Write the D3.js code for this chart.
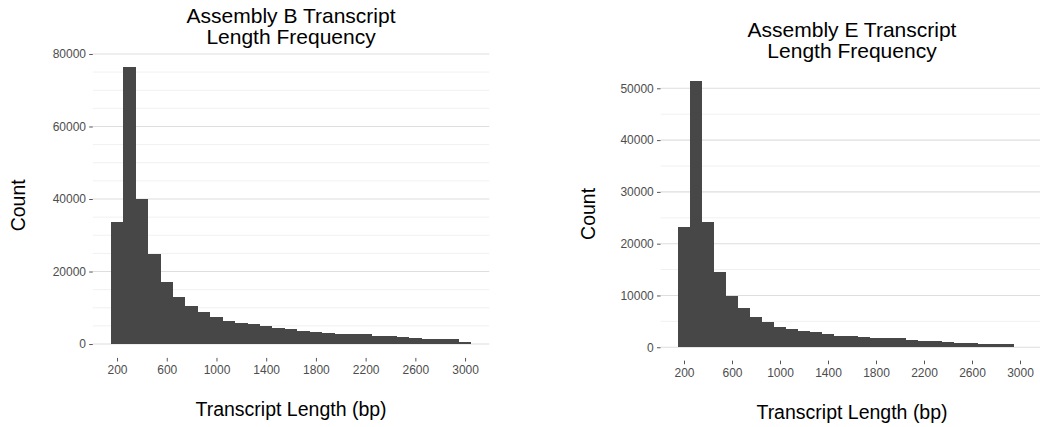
<!DOCTYPE html>
<html>
<head>
<meta charset="utf-8">
<script src="https://cdn.jsdelivr.net/npm/d3@7"></script>
<style>
  body { margin: 0; background: #ffffff; }
  svg { display: block; font-family: "Liberation Sans", Arial, Helvetica, sans-serif; }
</style>
</head>
<body>
<svg id="chart" width="1040" height="427"></svg>
<script>
// Histogram bins (centre of each 100 bp bin)
const binCenters = [200, 300, 400, 500, 600, 700, 800, 900, 1000, 1100,
                    1200, 1300, 1400, 1500, 1600, 1700, 1800, 1900, 2000, 2100,
                    2200, 2300, 2400, 2500, 2600, 2700, 2800, 2900, 3000];
const binWidth = 100;

// Transcript counts per bin, assembly B
const countsB = [33700, 76500, 40000, 24800, 17200, 13100, 10400, 8750, 7550, 6450,
                 5700, 5650, 4950, 4500, 4050, 3700, 3300, 2950, 2900, 2700,
                 2650, 2200, 2150, 1850, 1800, 1400, 1380, 1350, 640];

// Transcript counts per bin, assembly E
const countsE = [23200, 51500, 24200, 14600, 9900, 7500, 5900, 4850, 4000, 3550,
                 3200, 2950, 2500, 2200, 2250, 2000, 1750, 1750, 1700, 1480,
                 1230, 1200, 920, 900, 880, 650, 640, 620, 140];

// Tick labels
const xTickValues = [200, 600, 1000, 1400, 1800, 2200, 2600, 3000];
const yTicksB = [0, 20000, 40000, 60000, 80000];
const yTicksE = [0, 10000, 20000, 30000, 40000, 50000];
const minorStep = 5000;

const titleB = ["Assembly B Transcript", "Length Frequency"];
const titleE = ["Assembly E Transcript", "Length Frequency"];
const xLabel = "Transcript Length (bp)";
const yLabel = "Count";

const svg = d3.select("#chart");

function drawPanel(opts) {
  const { counts, yTicks, title, box } = opts;
  const bins = binCenters.map((c, i) => ({ c, n: counts[i] }));

  // 5% padding around the data range on both axes
  const x0 = binCenters[0] - binWidth / 2;
  const x1 = binCenters[binCenters.length - 1] + binWidth / 2;
  const xPad = (x1 - x0) * 0.05;
  const yMax = d3.max(counts);
  const yPad = yMax * 0.05;

  const x = d3.scaleLinear().domain([x0 - xPad, x1 + xPad]).range([box.left, box.right]);
  const y = d3.scaleLinear().domain([-yPad, yMax + yPad]).range([box.bottom, box.top]);

  const g = svg.append("g");

  // Horizontal grid lines: light ones every 5000, darker at labelled breaks
  const minor = d3.range(minorStep, yMax + yPad, minorStep).filter(v => !yTicks.includes(v));
  g.append("g").selectAll("line").data(minor).join("line")
    .attr("x1", box.left).attr("x2", box.right)
    .attr("y1", d => y(d)).attr("y2", d => y(d))
    .attr("stroke", "#f1f1f1").attr("stroke-width", 1);
  g.append("g").selectAll("line").data(yTicks).join("line")
    .attr("x1", box.left).attr("x2", box.right)
    .attr("y1", d => y(d)).attr("y2", d => y(d))
    .attr("stroke", "#dedede").attr("stroke-width", 1.1);

  // Bars
  g.append("g").selectAll("rect").data(bins).join("rect")
    .attr("x", d => x(d.c - binWidth / 2))
    .attr("width", d => x(d.c + binWidth / 2) - x(d.c - binWidth / 2))
    .attr("y", d => y(d.n))
    .attr("height", d => y(0) - y(d.n))
    .attr("fill", "#474747")
    .attr("shape-rendering", "crispEdges");

  // Axes
  const yAxis = g.append("g")
    .attr("transform", `translate(${box.left},0)`)
    .call(d3.axisLeft(y).tickValues(yTicks).tickSize(3.6).tickPadding(3.2).tickFormat(d3.format("d")));
  const xAxis = g.append("g")
    .attr("transform", `translate(0,${box.bottom})`)
    .call(d3.axisBottom(x).tickValues(xTickValues).tickSize(3.6).tickPadding(4.4).tickFormat(d3.format("d")));

  [yAxis, xAxis].forEach(a => {
    a.select(".domain").remove();
    a.selectAll(".tick line").attr("stroke", "#555555").attr("stroke-width", 1);
    a.selectAll(".tick text").attr("fill", "#4d4d4d").attr("font-size", 12)
      .attr("font-family", "Liberation Sans, Arial, sans-serif");
  });

  // Title, two centred lines
  const cx = (box.left + box.right) / 2;
  g.append("text")
    .attr("x", cx).attr("y", box.top - 30.2)
    .attr("text-anchor", "middle").attr("font-size", 21).attr("fill", "#000")
    .text(title[0]);
  g.append("text")
    .attr("x", cx).attr("y", box.top - 8.8)
    .attr("text-anchor", "middle").attr("font-size", 21).attr("fill", "#000")
    .text(title[1]);

  // Axis titles
  g.append("text")
    .attr("x", cx).attr("y", box.bottom + 58)
    .attr("text-anchor", "middle").attr("font-size", 19.5).attr("fill", "#000")
    .text(xLabel);
  g.append("text")
    .attr("transform", `translate(${box.yTitleX},${(box.top + box.bottom) / 2}) rotate(-90)`)
    .attr("text-anchor", "middle").attr("font-size", 19.5).attr("fill", "#000")
    .text(yLabel);
}

drawPanel({
  counts: countsB, yTicks: yTicksB, title: titleB,
  box: { left: 92.8, right: 489.3, top: 52.8, bottom: 357.9, yTitleX: 24.5 }
});
drawPanel({
  counts: countsE, yTicks: yTicksE, title: titleE,
  box: { left: 660.6, right: 1043.4, top: 67.2, bottom: 360.6, yTitleX: 595 }
});
</script>
</body>
</html>
